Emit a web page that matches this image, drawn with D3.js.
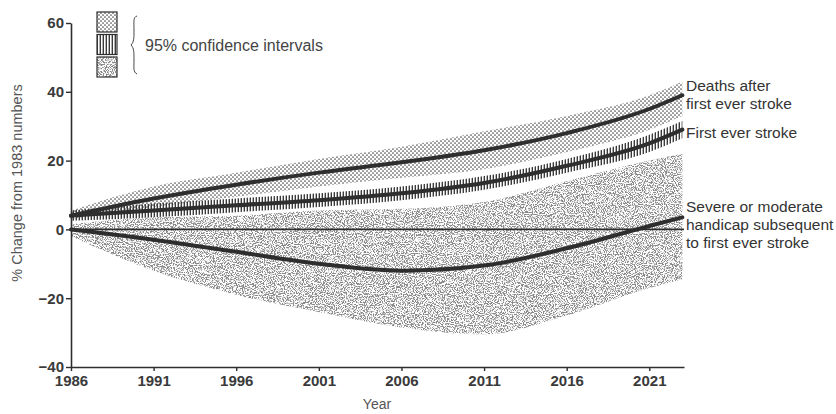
<!DOCTYPE html>
<html>
<head>
<meta charset="utf-8">
<script src="https://cdn.jsdelivr.net/npm/d3@7"></script>
<style>
  body { margin: 0; background: #fff; }
  text { font-family: "Liberation Sans", Arial, sans-serif; }
</style>
</head>
<body>
<div id="chart"></div>
<script>
// data
var years = [1986, 1991, 1996, 2001, 2006, 2011, 2016, 2021, 2023];

var deaths      = [4, 9, 13, 16.5, 19.5, 23, 28, 35, 39];
var deathsUpper = [5.5, 12.5, 16.5, 20.5, 24, 28.5, 33, 39, 43];
var deathsLower = [3, 6.5, 9.5, 12.5, 15, 17.5, 22.5, 29, 33];

var stroke      = [4, 5.5, 7, 8.5, 10.5, 13.5, 18.5, 25, 29];
var strokeUpper = [5.5, 7.5, 9, 10.5, 12.5, 15.5, 20.5, 27.5, 31.5];
var strokeLower = [2.5, 3.5, 5, 6.5, 8.5, 11.5, 16.5, 22.5, 26.5];

var handicap      = [0, -3, -6.5, -10, -12, -10.5, -5.5, 1, 3.5];
var handicapUpper = [1.5, 3.5, 4, 5.5, 6, 8, 14, 20, 22];
var handicapLower = [-2, -12, -19, -24, -28.5, -30.5, -25, -17, -14.5];

var yTicks = [-40, -20, 0, 20, 40, 60];
var xTicks = [1986, 1991, 1996, 2001, 2006, 2011, 2016, 2021];

var seriesLabels = [
    {lines: ["Deaths after", "first ever stroke"], y: 86},
    {lines: ["First ever stroke"], y: 133},
    {lines: ["Severe or moderate", "handicap subsequent", "to first ever stroke"], y: 207}
];

var width = 836, height = 414;
var ink = "#2e2e2e";

var svg = d3.select("#chart").append("svg")
    .attr("width", width)
    .attr("height", height);

var x = d3.scaleLinear().domain([1986, 2023.1]).range([71, 684]);
var y = d3.scaleLinear().domain([-40, 60]).range([367, 23]);

// ---- patterns ----
var defs = svg.append("defs");

var dots = defs.append("pattern")
    .attr("id", "dots")
    .attr("patternUnits", "userSpaceOnUse")
    .attr("width", 4).attr("height", 4);
dots.append("circle").attr("cx", 1).attr("cy", 1).attr("r", 0.85).attr("fill", "#4a4a4a");
dots.append("circle").attr("cx", 3).attr("cy", 3).attr("r", 0.85).attr("fill", "#4a4a4a");

var vlines = defs.append("pattern")
    .attr("id", "vlines")
    .attr("patternUnits", "userSpaceOnUse")
    .attr("width", 3).attr("height", 10);
vlines.append("rect").attr("x", 0.6).attr("y", 0).attr("width", 1.4).attr("height", 10).attr("fill", "#3a3a3a");

var grain = defs.append("filter")
    .attr("id", "grain")
    .attr("x", 0).attr("y", 0).attr("width", "100%").attr("height", "100%")
    .attr("filterUnits", "objectBoundingBox");
grain.append("feTurbulence")
    .attr("type", "fractalNoise")
    .attr("baseFrequency", 0.9)
    .attr("numOctaves", 2)
    .attr("seed", 7)
    .attr("result", "noise");
grain.append("feColorMatrix")
    .attr("in", "noise")
    .attr("type", "matrix")
    .attr("values", "0 0 0 0 0.25  0 0 0 0 0.25  0 0 0 0 0.25  7 0 0 0 -3.2")
    .attr("result", "specks");
grain.append("feComposite")
    .attr("in", "specks")
    .attr("in2", "SourceGraphic")
    .attr("operator", "in");

// ---- bands ----
var area = d3.area()
    .x(function(d){ return x(d.year); })
    .y0(function(d){ return y(d.lo); })
    .y1(function(d){ return y(d.hi); })
    .curve(d3.curveMonotoneX);

function band(lo, hi){
    return years.map(function(yr, i){ return {year: yr, lo: lo[i], hi: hi[i]}; });
}

svg.append("path")
    .datum(band(handicapLower, handicapUpper))
    .attr("d", area)
    .attr("fill", "#000")
    .attr("filter", "url(#grain)");

svg.append("path")
    .datum(band(deathsLower, deathsUpper))
    .attr("d", area)
    .attr("fill", "url(#dots)");

svg.append("path")
    .datum(band(strokeLower, strokeUpper))
    .attr("d", area)
    .attr("fill", "url(#vlines)");

// ---- zero line ----
svg.append("line")
    .attr("x1", x(1986)).attr("x2", x(2023.1))
    .attr("y1", y(0)).attr("y2", y(0))
    .attr("stroke", ink)
    .attr("stroke-width", 1.6);

// ---- central lines ----
var line = d3.line()
    .x(function(d){ return x(d[0]); })
    .y(function(d){ return y(d[1]); })
    .curve(d3.curveMonotoneX);

[deaths, stroke, handicap].forEach(function(vals){
    svg.append("path")
        .datum(years.map(function(yr, i){ return [yr, vals[i]]; }))
        .attr("d", line)
        .attr("fill", "none")
        .attr("stroke", ink)
        .attr("stroke-width", 4)
        .attr("stroke-linecap", "round");
});

// ---- axes ----
var yAxis = svg.append("g")
    .attr("transform", "translate(" + x(1986) + ",0)")
    .call(d3.axisLeft(y).tickValues(yTicks).tickSize(5).tickSizeOuter(0).tickPadding(2));

var xAxis = svg.append("g")
    .attr("transform", "translate(0," + y(-40) + ")")
    .call(d3.axisBottom(x).tickValues(xTicks).tickFormat(d3.format("d")).tickSize(4).tickSizeOuter(0).tickPadding(4));

[yAxis, xAxis].forEach(function(ax){
    ax.select(".domain").attr("stroke", ink).attr("stroke-width", 1.6);
    ax.selectAll(".tick line").attr("stroke", ink).attr("stroke-width", 1.4);
    ax.selectAll(".tick text")
        .attr("fill", "#3a3a3a")
        .style("font-size", "15px")
        .style("font-weight", "bold");
});

// axis titles
svg.append("text")
    .text("% Change from 1983 numbers")
    .attr("transform", "translate(22,183) rotate(-90)")
    .attr("text-anchor", "middle")
    .attr("fill", "#555")
    .style("font-size", "14.5px");

svg.append("text")
    .text("Year")
    .attr("x", 377).attr("y", 409)
    .attr("text-anchor", "middle")
    .attr("fill", "#555")
    .style("font-size", "14px");

// ---- series labels ----
seriesLabels.forEach(function(lbl){
    var t = svg.append("text")
        .attr("x", 686)
        .attr("y", lbl.y + 5)
        .attr("fill", "#333")
        .style("font-size", "15.5px");
    lbl.lines.forEach(function(s, i){
        t.append("tspan").attr("x", 686).attr("dy", i === 0 ? 0 : 18).text(s);
    });
});

// ---- legend ----
var legendFills = ["url(#dots)", "url(#vlines)", "#000"];
legendFills.forEach(function(f, i){
    var r = svg.append("rect")
        .attr("x", 97).attr("y", 12 + i * 22.5)
        .attr("width", 20).attr("height", 20)
        .attr("fill", f);
    if (i === 2) r.attr("filter", "url(#grain)");
    svg.append("rect")
        .attr("x", 97).attr("y", 12 + i * 22.5)
        .attr("width", 20).attr("height", 20)
        .attr("fill", "none")
        .attr("stroke", ink)
        .attr("stroke-width", 1.2);
});

// curly brace
svg.append("path")
    .attr("d", "M137,16 C133,17 134,22 134,30 C134,38 134,42 131,45 C134,48 134,52 134,60 C134,68 133,72 137,74")
    .attr("fill", "none")
    .attr("stroke", "#444")
    .attr("stroke-width", 1);

svg.append("text")
    .text("95% confidence intervals")
    .attr("x", 145).attr("y", 51)
    .attr("fill", "#444")
    .style("font-size", "16px");
</script>
</body>
</html>
